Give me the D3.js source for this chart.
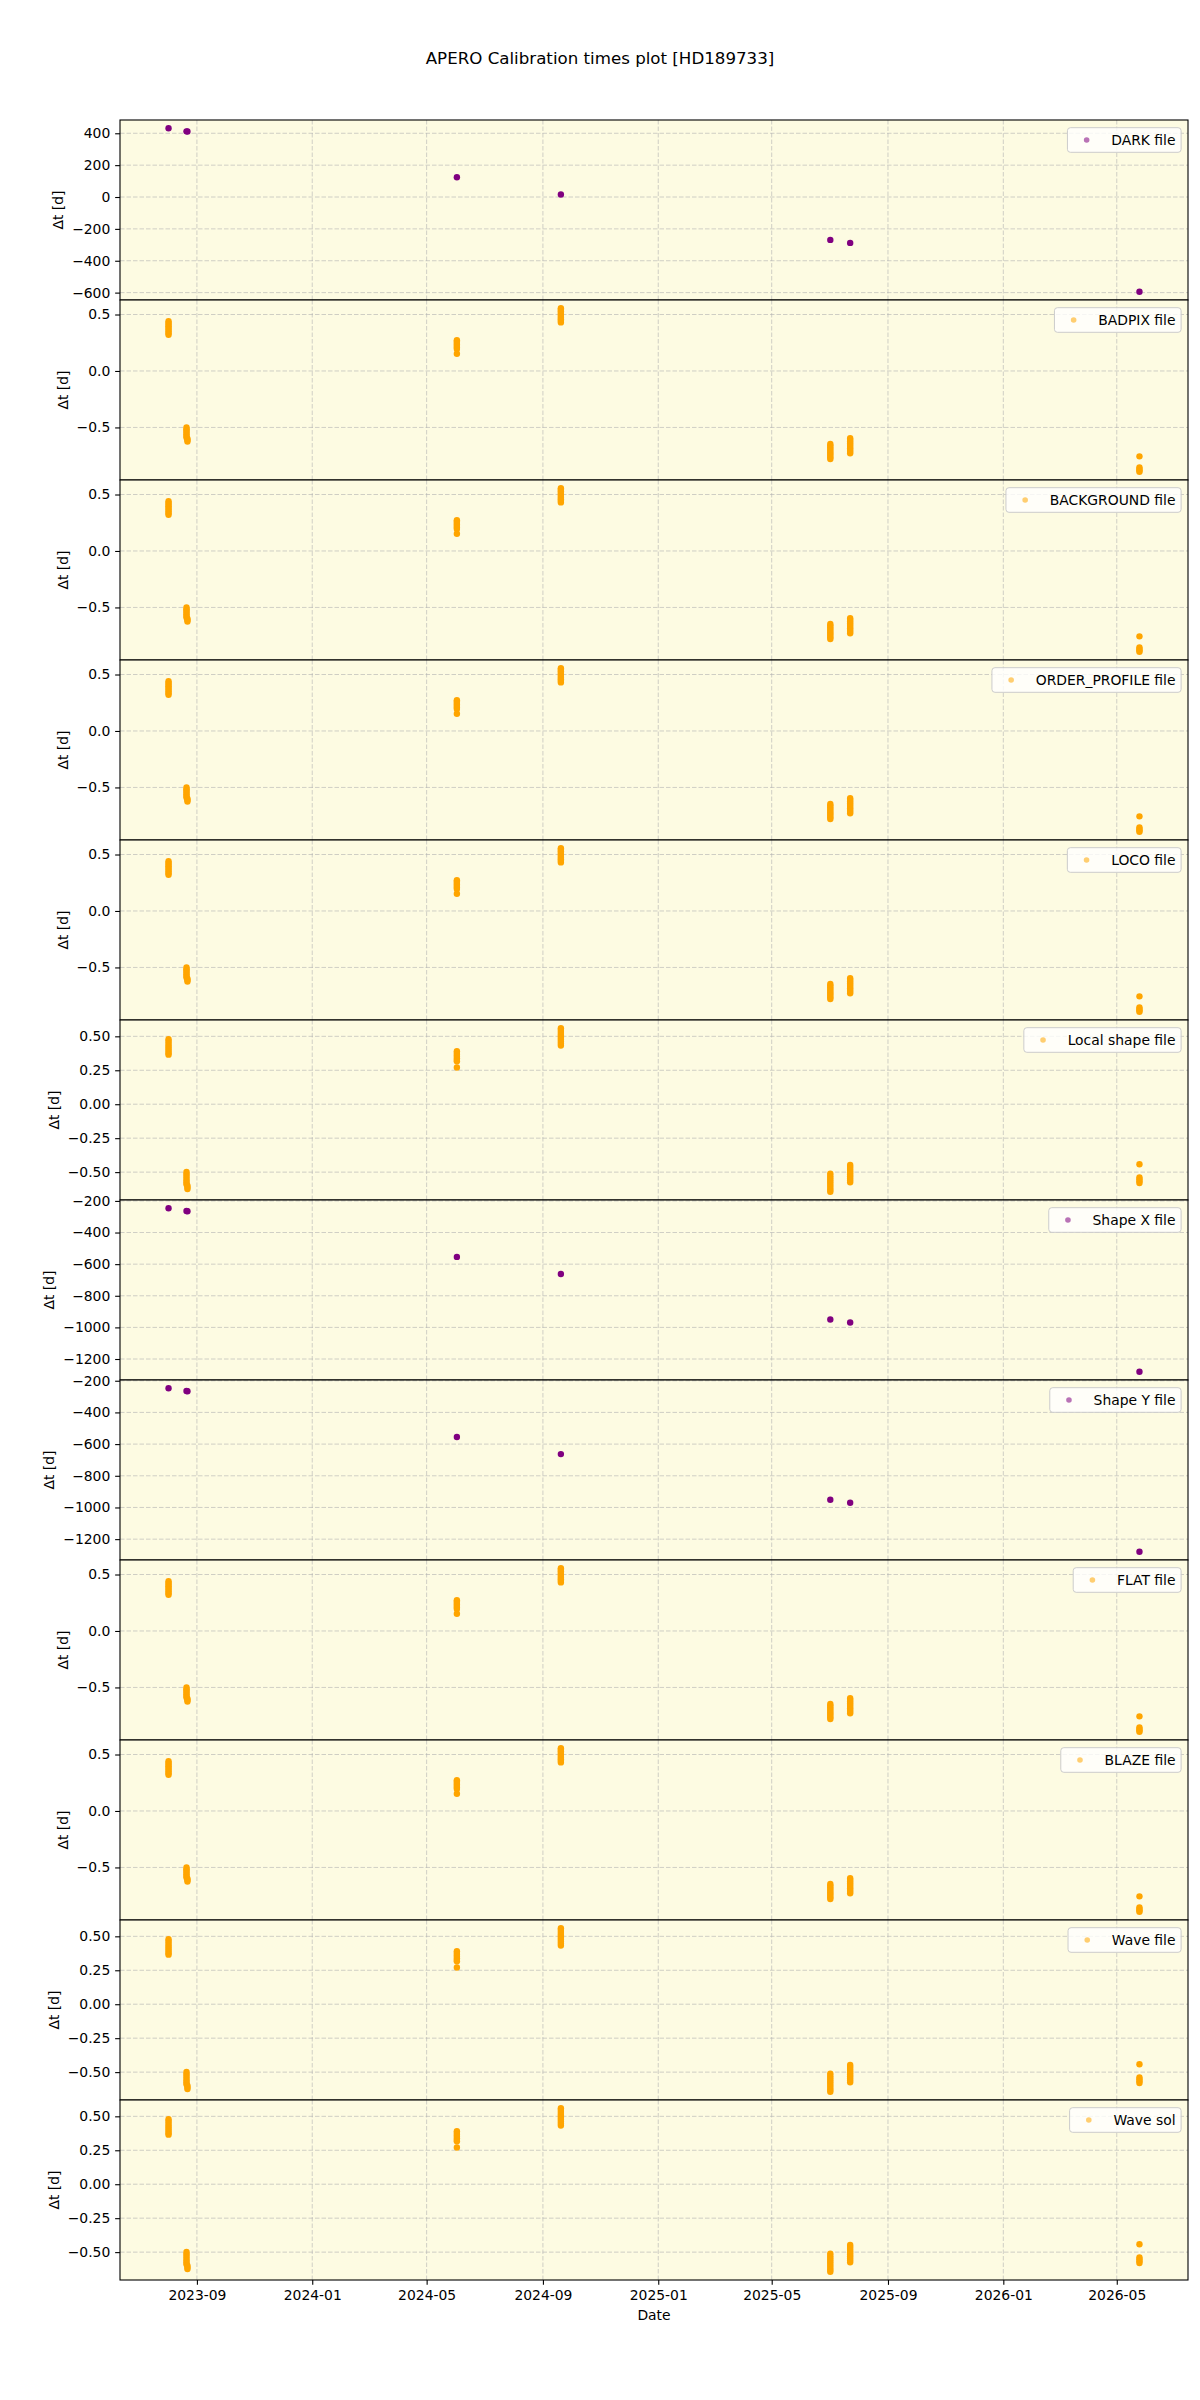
<!DOCTYPE html>
<html><head><meta charset="utf-8">
<script src="https://cdn.jsdelivr.net/npm/d3@7"></script>
<style>
body{margin:0;background:#fff}
svg{display:block}
text{font-family:"DejaVu Sans",sans-serif}
</style>
</head><body>
<svg id="chart" width="1200" height="2400"></svg>
<script>
// ---------------- DATA ----------------
const chartTitle = "APERO Calibration times plot [HD189733]";
const obsDates = ["2023-08-02","2023-08-21","2023-08-22","2024-06-02","2024-09-20","2025-07-02","2025-07-23","2026-05-25"];
const xTickDates = ["2023-09-01","2024-01-01","2024-05-01","2024-09-01","2025-01-01","2025-05-01","2025-09-01","2026-01-01","2026-05-01"];

const ticksDark  = [400, 200, 0, -200, -400, -600];
const ticksShape = [-200, -400, -600, -800, -1000, -1200];
const ticksA     = [0.5, 0.0, -0.5];
const ticksB     = [0.50, 0.25, 0.00, -0.25, -0.50];

// Δt [d] values per observation date (one list per date in obsDates)
const darkDt   = [[432],[412],[411],[124],[16],[-269],[-288],[-595]];
const shapeXDt = [[-246],[-264],[-265],[-554],[-662],[-950],[-969],[-1281]];
const shapeYDt = [[-247],[-265],[-266],[-555],[-663],[-951],[-970],[-1280]];

const badpixDt = [
  [0.44,0.425,0.41,0.395,0.38,0.365,0.35,0.335,0.32],
  [-0.50,-0.515,-0.53,-0.545,-0.56,-0.575,-0.59],
  [-0.60,-0.612,-0.625],
  [0.273,0.26,0.247,0.234,0.221,0.208,0.195,0.152],
  [0.556,0.542,0.528,0.514,0.50,0.486,0.472,0.458,0.444,0.43],
  [-0.646,-0.661,-0.676,-0.691,-0.706,-0.721,-0.736,-0.751,-0.766,-0.78],
  [-0.595,-0.61,-0.625,-0.64,-0.655,-0.67,-0.685,-0.70,-0.715,-0.729],
  [-0.756,-0.855,-0.868,-0.881,-0.893]
];
const backgroundDt   = badpixDt;
const orderProfileDt = badpixDt;
const locoDt         = badpixDt;
const flatDt         = badpixDt;
const blazeDt        = badpixDt;

const localShapeDt = [
  [0.479,0.465,0.45,0.435,0.42,0.405,0.39,0.375,0.365],
  [-0.499,-0.514,-0.529,-0.544,-0.559,-0.574,-0.589],
  [-0.60,-0.613,-0.625],
  [0.39,0.377,0.364,0.351,0.338,0.325,0.316,0.271],
  [0.56,0.546,0.532,0.518,0.504,0.49,0.476,0.462,0.448,0.432],
  [-0.511,-0.526,-0.541,-0.556,-0.571,-0.586,-0.601,-0.616,-0.631,-0.645],
  [-0.447,-0.461,-0.475,-0.489,-0.503,-0.517,-0.531,-0.545,-0.559,-0.575],
  [-0.442,-0.54,-0.553,-0.567,-0.58]
];
const waveFileDt = localShapeDt;
const waveSolDt  = localShapeDt;

const seriesNames  = ["DARK file","BADPIX file","BACKGROUND file","ORDER_PROFILE file","LOCO file","Local shape file","Shape X file","Shape Y file","FLAT file","BLAZE file","Wave file","Wave sol"];
const seriesValues = [darkDt, badpixDt, backgroundDt, orderProfileDt, locoDt, localShapeDt, shapeXDt, shapeYDt, flatDt, blazeDt, waveFileDt, waveSolDt];
const seriesTicks  = [ticksDark, ticksA, ticksA, ticksA, ticksA, ticksB, ticksShape, ticksShape, ticksA, ticksA, ticksB, ticksB];

// ---------------- STYLE / LAYOUT ----------------
const W = 1200, left = 120, right = 1188, top0 = 120, panelH = 180;
const FS = 13.9;
const bg = "#fdfbe2";
const colorFor = name => (/DARK|Shape X|Shape Y/.test(name) ? "purple" : "orange");
const fmtFor = ticks => (ticks === ticksA ? d3.format(".1f") : ticks === ticksB ? d3.format(".2f") : d3.format("d"));

const parse = d3.utcParse("%Y-%m-%d");
const dates = obsDates.map(parse);
const svg = d3.select("#chart");

// x scale with 5% margins
const [dmin, dmax] = d3.extent(dates);
const span = dmax - dmin;
const x = d3.scaleUtc().domain([new Date(+dmin - 0.05*span), new Date(+dmax + 0.05*span)]).range([left, right]);
const xTicks = xTickDates.map(parse);

svg.append("text").attr("x", W/2).attr("y", 64).attr("text-anchor","middle")
  .attr("font-size", 16.67).attr("fill","#000").text(chartTitle);

seriesNames.forEach((name, i) => {
  const vals = seriesValues[i];
  const pts = [];
  vals.forEach((arr, j) => arr.forEach(v => pts.push({d: dates[j], v})));
  const [vmin, vmax] = d3.extent(pts, p => p.v);
  const pad = 0.05*(vmax - vmin);
  const y = d3.scaleLinear().domain([vmin - pad, vmax + pad]).range([panelH, 0]);
  const ticks = seriesTicks[i];
  const col = colorFor(name);
  const g = svg.append("g").attr("transform", `translate(0,${top0 + i*panelH})`);

  g.append("rect").attr("x", left).attr("y", 0).attr("width", right-left).attr("height", panelH).attr("fill", bg);

  const grid = g.append("g").attr("stroke","#b0b0b0").attr("stroke-opacity",0.6).attr("stroke-width",1).attr("stroke-dasharray","4.5,2");
  grid.selectAll("line.v").data(xTicks).join("line").attr("class","v")
    .attr("x1", d => x(d)).attr("x2", d => x(d)).attr("y1", 0).attr("y2", panelH);
  grid.selectAll("line.h").data(ticks).join("line").attr("class","h")
    .attr("x1", left).attr("x2", right).attr("y1", d => y(d)).attr("y2", d => y(d));

  g.append("g").selectAll("circle").data(pts).join("circle")
    .attr("cx", p => x(p.d)).attr("cy", p => y(p.v)).attr("r", 3.2).attr("fill", col);

  g.append("rect").attr("x", left).attr("y", 0).attr("width", right-left).attr("height", panelH)
    .attr("fill","none").attr("stroke","#000").attr("stroke-width",1.1);

  const ax = g.append("g").attr("transform", `translate(${left},0)`)
    .call(d3.axisLeft(y).tickValues(ticks).tickFormat(fmtFor(ticks)).tickSize(4.86).tickPadding(4.86));
  ax.select(".domain").remove();
  ax.selectAll("line").attr("stroke","#000").attr("stroke-width",1.1);
  ax.selectAll("text").attr("font-size", FS).attr("font-family",'"DejaVu Sans",sans-serif').attr("fill","#000");
  let maxW = 0;
  ax.selectAll("text").each(function(){ maxW = Math.max(maxW, this.getComputedTextLength()); });
  const labX = left - 4.86 - 4.86 - maxW - 5.56 - 8.1;
  g.append("text").attr("transform", `translate(${labX},${panelH/2}) rotate(-90)`)
    .attr("text-anchor","middle").attr("dy","0.35em").attr("font-size", FS).attr("fill","#000").text("Δt [d]");

  // legend
  const lg = g.append("g");
  const lt = lg.append("text").attr("font-size", FS).attr("fill","#000").text(name);
  const tw = lt.node().getComputedTextLength();
  const bRight = right - 6.9, bTop = 7.7, bH = 24.6;
  const bLeft = bRight - 5.56 - tw - 43.8;
  lg.insert("rect", "text").attr("x", bLeft).attr("y", bTop).attr("width", bRight - bLeft).attr("height", bH)
    .attr("rx", 3).attr("fill","#fff").attr("fill-opacity",0.8).attr("stroke","#cccccc").attr("stroke-width",1);
  lg.append("circle").attr("cx", bLeft + 19.2).attr("cy", bTop + bH/2).attr("r", 2.8).attr("fill", col).attr("fill-opacity",0.55);
  lt.attr("x", bLeft + 43.8).attr("y", bTop + bH/2).attr("dy","0.36em");

  if (i === seriesNames.length - 1) {
    const xa = g.append("g").attr("transform", `translate(0,${panelH})`)
      .call(d3.axisBottom(x).tickValues(xTicks).tickFormat(d3.utcFormat("%Y-%m")).tickSize(4.86).tickPadding(4.86));
    xa.select(".domain").remove();
    xa.selectAll("line").attr("stroke","#000").attr("stroke-width",1.1);
    xa.selectAll("text").attr("font-size", FS).attr("font-family",'"DejaVu Sans",sans-serif').attr("fill","#000");
    g.append("text").attr("x", (left+right)/2).attr("y", panelH + 39.5).attr("text-anchor","middle")
      .attr("font-size", FS).attr("fill","#000").text("Date");
  }
});
</script>
</body></html>
